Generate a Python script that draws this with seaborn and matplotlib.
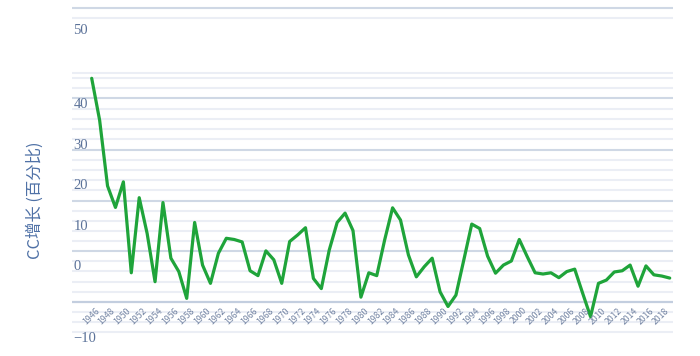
import numpy as np
import pandas as pd
import matplotlib
matplotlib.use("Agg")
import matplotlib.pyplot as plt
import seaborn as sns

# ---- data ----
years = list(range(1946, 2020))
growth = [46.4, 36.1, 19.9, 14.6, 20.9, -1.5, 17.0, 8.2, -3.7, 15.8,
          2.1, -1.2, -7.8, 10.9, 0.4, -4.1, 3.3, 7.0, 6.7, 6.1,
          -1.0, -2.2, 3.9, 1.7, -4.1, 6.2, 7.8, 9.6, -2.9, -5.4,
          4.1, 10.9, 13.2, 8.9, -7.5, -1.5, -2.2, 6.6, 14.5, 11.5,
          2.9, -2.5, 0.0, 2.1, -6.2, -9.8, -7.0, 1.7, 10.5, 9.4,
          2.6, -1.6, 0.4, 1.4, 6.7, 2.5, -1.5, -1.8, -1.5, -2.7,
          -1.2, -0.6, -6.5, -12.3, -4.1, -3.3, -1.3, -1.0, 0.4, -4.8,
          0.2, -2.0, -2.3, -2.8]
xtick_years = list(range(1946, 2019, 2))
ytick_labels = ["50", "40", "30", "20", "10", "0", "\u221210"]
ytick_pos = [58.1, 40.0, 29.8, 19.9, 10.0, 0.0, -17.8]
ylabel = "CC增长 (百分比)"

df = pd.DataFrame({"year": years, "growth": growth})

sns.set_style("white")
plt.rcParams["font.family"] = ["Noto Sans CJK SC", "DejaVu Sans"]

fig = plt.figure(figsize=(7.0, 3.56), dpi=100)
W, H = 700, 356
ax = fig.add_axes([72 / W, 0, (673 - 72) / W, 1])

# pixel <-> value mapping of the reference layout
px_per_unit = 4.06
y0_px = 266.7
def v(ypx):
    return (y0_px - ypx) / px_per_unit

ax.set_ylim(v(356), v(0))
px_per_year = 7.918
ax.set_xlim(1946 - (91.7 - 72) / px_per_year, 1946 + (673 - 91.7) / px_per_year)

# gridlines
minor_px = [18.3, 73.3, 78.3, 88.3, 109.3, 119.3, 129.3, 139.3, 160, 170, 180, 190,
            210.5, 220.5, 230.7, 241, 260.7, 271, 281.5, 291.7, 311.7, 321.7, 331.7]
major_px = [8.3, 98.3, 150, 200.7, 250.7]
for p in minor_px:
    ax.axhline(v(p), color="#ebeef5", lw=1.5, zorder=0)
for p in major_px:
    ax.axhline(v(p), color="#cfd8e5", lw=1.5, zorder=0)
ax.axhline(v(302), color="#c3cedf", lw=1.6, zorder=1)

sns.lineplot(data=df, x="year", y="growth", ax=ax, color="#1fa43a", lw=2.3,
             zorder=3, legend=False)

for s in ax.spines.values():
    s.set_visible(False)
ax.set_xlabel("")
ax.set_ylabel("")
ax.set_yticks([])
ax.set_xticks([])

# y tick labels
for lab, pos in zip(ytick_labels, ytick_pos):
    ax.annotate(lab, xy=(0, pos), xycoords=("axes fraction", "data"),
                xytext=(1.5, 0), textcoords="offset pixels",
                ha="left", va="center", fontsize=10.5, color="#5b7299",
                family=["Liberation Serif", "DejaVu Serif"])

# x tick labels
for yr in xtick_years:
    ax.annotate(str(yr), xy=(yr, v(302)), xycoords="data",
                xytext=(3, -4), textcoords="offset pixels",
                ha="right", va="top", rotation=45, rotation_mode="anchor",
                fontsize=6.3, color="#7384a3")

fig.text(35 / W, 1 - 200 / H, ylabel, rotation=90, ha="center", va="center",
         fontsize=11.8, color="#4f71a6",
         family=["Noto Sans CJK SC", "DejaVu Sans"])

fig.savefig("out.png", dpi=100)
